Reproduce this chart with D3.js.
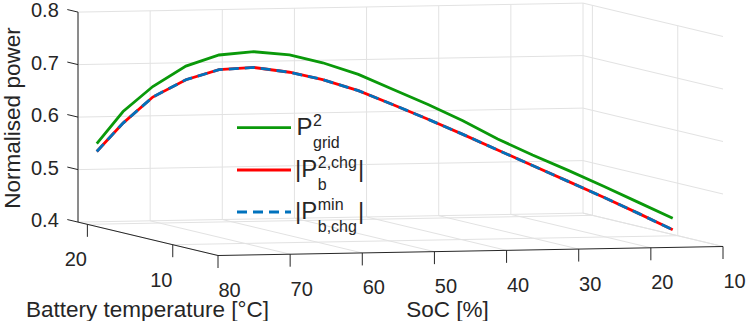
<!DOCTYPE html>
<html>
<head>
<meta charset="utf-8">
<script src="https://cdn.jsdelivr.net/npm/d3@7"></script>
<style>
  body { margin: 0; background: #fff; }
  text { font-family: "Liberation Sans", Arial, Helvetica, sans-serif; fill: #262626; }
</style>
</head>
<body>
<div id="chart"></div>
<script>
// data
const soc = [80, 76, 72, 68, 64, 60, 56, 52, 48, 44, 40, 36, 32, 28, 24, 20, 16, 12];
const temperature = [18.9, 19.2, 19.1, 18.6, 18.1, 17.4, 16.6, 16.1, 15.3, 14.6, 13.9, 13.2, 12.5, 11.8, 11.0, 10.3, 9.6, 8.9];
const pGrid = [0.558, 0.617, 0.664, 0.704, 0.726, 0.734, 0.730, 0.716, 0.696, 0.669, 0.642, 0.613, 0.580, 0.551, 0.524, 0.496, 0.467, 0.438];
const pChg = [0.543, 0.595, 0.644, 0.678, 0.698, 0.704, 0.697, 0.684, 0.665, 0.640, 0.614, 0.587, 0.559, 0.531, 0.503, 0.475, 0.446, 0.416];
const pMin = [0.543, 0.595, 0.644, 0.678, 0.698, 0.704, 0.697, 0.684, 0.665, 0.640, 0.614, 0.587, 0.559, 0.531, 0.503, 0.475, 0.446, 0.416];

const socTicks = [80, 70, 60, 50, 40, 30, 20, 10];
const tempTicks = [20, 10];
const powerTicks = [0.4, 0.5, 0.6, 0.7, 0.8];

const width = 747, height = 321;
const svg = d3.select("#chart").append("svg")
  .attr("width", width)
  .attr("height", height);

// axis scales (fraction along each box edge)
const sx = d3.scaleLinear().domain([80, 10]).range([0, 1]);
const sy = d3.scaleLinear().domain([4.7, 21.1]).range([0, 1]);
const sz = d3.scaleLinear().domain([0.4, 0.8]).range([0, 1]);

// orthographic projection of the 3d box
const origin = [218, 255.5];
const U = [505, -9], V = [-140, -33.4], W = [0, -210];
function proj(s, t, p) {
  const a = sx(s), b = sy(t), c = sz(p);
  return [origin[0] + a * U[0] + b * V[0] + c * W[0],
          origin[1] + a * U[1] + b * V[1] + c * W[1]];
}

const sMin = 10, sMax = 80, tLo = 4.7, tHi = 21.1, zLo = 0.4, zHi = 0.8;

function seg(g, p1, p2, color) {
  g.append("line")
    .attr("x1", p1[0]).attr("y1", p1[1])
    .attr("x2", p2[0]).attr("y2", p2[1])
    .attr("stroke", color)
    .attr("stroke-width", 1);
}

// grid
const grid = svg.append("g");
const gridColor = "#e2e2e2";
socTicks.forEach(s => {
  seg(grid, proj(s, tHi, zLo), proj(s, tHi, zHi), gridColor);   // back wall
  seg(grid, proj(s, tHi, zLo), proj(s, tLo, zLo), gridColor);   // floor
});
powerTicks.forEach(p => {
  seg(grid, proj(sMax, tHi, p), proj(sMin, tHi, p), gridColor);  // back wall
  seg(grid, proj(sMin, tHi, p), proj(sMin, tLo, p), gridColor);  // side wall
});
tempTicks.forEach(t => {
  seg(grid, proj(sMin, t, zLo), proj(sMin, t, zHi), gridColor);  // side wall
  seg(grid, proj(sMax, t, zLo), proj(sMin, t, zLo), gridColor);  // floor
});

// axes
const ax = svg.append("g");
const axColor = "#262626";
seg(ax, proj(sMax, tHi, zLo), proj(sMax, tHi, zHi), axColor);
seg(ax, proj(sMax, tHi, zLo), proj(sMax, tLo, zLo), axColor);
seg(ax, proj(sMax, tLo, zLo), proj(sMin, tLo, zLo), axColor);

const vlen = Math.hypot(V[0], V[1]);
powerTicks.forEach(p => {
  const a = proj(sMax, tHi, p);
  const b = [a[0] + 11 * V[0] / vlen, a[1] + 11 * V[1] / vlen];
  seg(ax, a, b, axColor);
  ax.append("text")
    .attr("x", b[0] - 8.5).attr("y", b[1] + 0.5)
    .attr("dy", "0.35em")
    .attr("text-anchor", "end")
    .style("font-size", "20px")
    .text(p.toFixed(1));
});
tempTicks.forEach(t => {
  const a = proj(sMax, t, zLo);
  seg(ax, a, [a[0], a[1] + 12.5], axColor);
  ax.append("text")
    .attr("x", a[0] - 11.5).attr("y", a[1] + 35)
    .attr("dy", "0.35em")
    .attr("text-anchor", "middle")
    .style("font-size", "20px")
    .text(t);
});
socTicks.forEach(s => {
  const a = proj(s, tLo, zLo);
  seg(ax, a, [a[0], a[1] + 12.5], axColor);
  ax.append("text")
    .attr("x", a[0] + 11.5).attr("y", a[1] + 34.5)
    .attr("dy", "0.35em")
    .attr("text-anchor", "middle")
    .style("font-size", "20px")
    .text(s);
});

// axis titles
svg.append("text")
  .attr("x", 447.5).attr("y", 317)
  .attr("text-anchor", "middle")
  .style("font-size", "22.5px")
  .text("SoC [%]");
svg.append("text")
  .attr("x", 147.5).attr("y", 317)
  .attr("text-anchor", "middle")
  .style("font-size", "22.5px")
  .text("Battery temperature [°C]");
svg.append("text")
  .attr("transform", "translate(20,118) rotate(-90)")
  .attr("text-anchor", "middle")
  .style("font-size", "22.5px")
  .text("Normalised power");

// curves
const rows = soc.map((s, i) => ({s: s, t: temperature[i], grid: pGrid[i], chg: pChg[i], min: pMin[i]}));
function curve(key) {
  return d3.line()
    .x(d => proj(d.s, d.t, d[key])[0])
    .y(d => proj(d.s, d.t, d[key])[1]);
}
const series = [
  {key: "chg", color: "#ff0000", dash: null},
  {key: "min", color: "#0072bd", dash: "10,6"},
  {key: "grid", color: "#0a990a", dash: null}
];
series.forEach(sr => {
  svg.append("path")
    .datum(rows)
    .attr("d", curve(sr.key))
    .attr("fill", "none")
    .attr("stroke", sr.color)
    .attr("stroke-width", 2.8)
    .attr("stroke-dasharray", sr.dash);
});

// legend
const legend = svg.append("g");
const legendItems = [
  {y: 127.7, color: "#0a990a", dash: null, pre: "P", sup: "2", sub: "grid", bars: false},
  {y: 170, color: "#ff0000", dash: null, pre: "|P", sup: "2,chg", sub: "b", bars: true},
  {y: 212, color: "#0072bd", dash: "10,6", pre: "|P", sup: "min", sub: "b,chg", bars: true}
];
legendItems.forEach(it => {
  legend.append("line")
    .attr("x1", 237).attr("x2", 291)
    .attr("y1", it.y).attr("y2", it.y)
    .attr("stroke", it.color)
    .attr("stroke-width", 2.8)
    .attr("stroke-dasharray", it.dash);
  const base = it.y + 7.3;
  const x0 = it.bars ? 295 : 296.5;
  const main = legend.append("text")
    .attr("x", x0).attr("y", base)
    .style("font-size", "24px")
    .text(it.pre);
  const w = main.node().getComputedTextLength();
  const sup = legend.append("text")
    .attr("x", x0 + w + 0.5).attr("y", base - 9.5)
    .style("font-size", "16px")
    .text(it.sup);
  const sub = legend.append("text")
    .attr("x", x0 + w + 0.5).attr("y", base + 12.5)
    .style("font-size", "16px")
    .text(it.sub);
  const ew = Math.max(sup.node().getComputedTextLength(), sub.node().getComputedTextLength());
  if (it.bars) {
    legend.append("text")
      .attr("x", x0 + w + ew + 1.5).attr("y", base)
      .style("font-size", "24px")
      .text("|");
  }
});
</script>
</body>
</html>
